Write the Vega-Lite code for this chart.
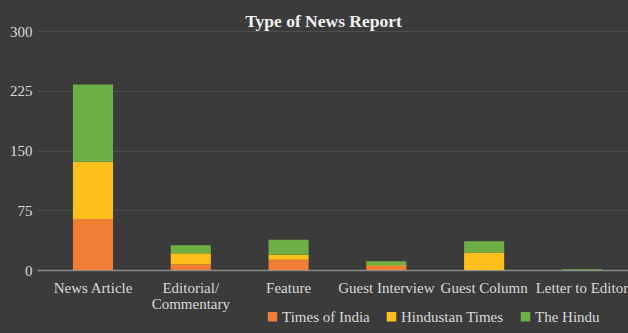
{
  "$schema": "https://vega.github.io/schema/vega-lite/v6.json",
  "width": 591,
  "height": 239,
  "autosize": {"type": "none"},
  "padding": {"left": 37, "top": 31, "right": 0, "bottom": 63},
  "background": "#3b3b3b",
  "title": {"text": "Type of News Report", "font": "Liberation Serif", "fontSize": 17.5, "fontWeight": "bold", "color": "#f2f2f2", "anchor": "middle", "dx": -9, "offset": -6},
  "data": {"values": [
    {"type": "News Article", "paper": "Times of India", "o": 1, "v": 64},
    {"type": "News Article", "paper": "Hindustan Times", "o": 2, "v": 72},
    {"type": "News Article", "paper": "The Hindu", "o": 3, "v": 97},
    {"type": "Editorial/|Commentary", "paper": "Times of India", "o": 1, "v": 7},
    {"type": "Editorial/|Commentary", "paper": "Hindustan Times", "o": 2, "v": 14},
    {"type": "Editorial/|Commentary", "paper": "The Hindu", "o": 3, "v": 10},
    {"type": "Feature", "paper": "Times of India", "o": 1, "v": 13},
    {"type": "Feature", "paper": "Hindustan Times", "o": 2, "v": 6},
    {"type": "Feature", "paper": "The Hindu", "o": 3, "v": 19},
    {"type": "Guest Interview", "paper": "Times of India", "o": 1, "v": 5},
    {"type": "Guest Interview", "paper": "Hindustan Times", "o": 2, "v": 1},
    {"type": "Guest Interview", "paper": "The Hindu", "o": 3, "v": 5},
    {"type": "Guest Column", "paper": "Times of India", "o": 1, "v": 0},
    {"type": "Guest Column", "paper": "Hindustan Times", "o": 2, "v": 22},
    {"type": "Guest Column", "paper": "The Hindu", "o": 3, "v": 14},
    {"type": "Letter to Editor", "paper": "Times of India", "o": 1, "v": 0},
    {"type": "Letter to Editor", "paper": "Hindustan Times", "o": 2, "v": 0},
    {"type": "Letter to Editor", "paper": "The Hindu", "o": 3, "v": 1}
  ]},
  "mark": {"type": "bar"},
  "encoding": {
    "x": {
      "field": "type", "type": "nominal", "sort": null,
      "scale": {"paddingInner": 0.59, "paddingOuter": 0.317, "align": 0.58},
      "axis": {"title": null, "labelAngle": 0, "labelExpr": "split(datum.label, '|')", "labelFont": "Liberation Serif", "labelFontSize": 15, "labelColor": "#d9d9d9", "ticks": false, "domain": true, "domainColor": "#8c8c8c", "domainWidth": 1.5, "labelPadding": 10, "labelLineHeight": 16, "labelOverlap": false, "labelBound": false, "grid": false}
    },
    "y": {
      "field": "v", "type": "quantitative", "aggregate": "sum", "stack": "zero",
      "scale": {"domain": [0, 300], "nice": false},
      "axis": {"title": null, "values": [0, 75, 150, 225, 300], "labelFont": "Liberation Serif", "labelFontSize": 15, "labelColor": "#d9d9d9", "ticks": false, "domain": false, "labelPadding": 5, "gridColor": "#4e4e4e", "gridWidth": 1.2}
    },
    "color": {
      "field": "paper", "type": "nominal",
      "scale": {"domain": ["Times of India", "Hindustan Times", "The Hindu"], "range": ["#F07F35", "#FDC01A", "#6EAF45"]},
      "legend": {"title": null, "orient": "none", "legendX": 228, "legendY": 278, "direction": "horizontal", "symbolType": "square", "symbolSize": 90, "symbolStrokeWidth": 0, "labelFont": "Liberation Serif", "labelFontSize": 15, "labelColor": "#d9d9d9", "columnPadding": 14, "labelOffset": 2, "symbolOffset": 0}
    },
    "order": {"field": "o", "type": "quantitative"}
  },
  "config": {"view": {"stroke": null}}
}
